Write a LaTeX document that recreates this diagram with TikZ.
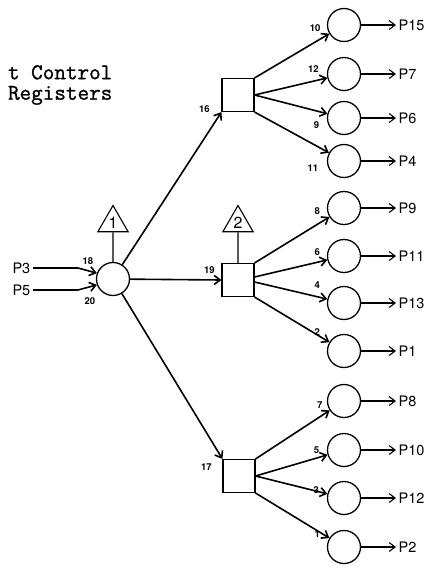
\documentclass[tikz,border=0pt]{standalone}
\usepackage{fontspec}
\setsansfont{TeX Gyre Heros}
\newfontfamily\typefont{Latin Modern Mono}[FakeBold=1.2]
\usetikzlibrary{positioning,arrows.meta,shapes.geometric}
\tikzset{
  gate/.style={circle,draw,line width=1.3pt,minimum size=33pt,inner sep=0pt},
  reg/.style={rectangle,draw,line width=1.1pt,minimum width=32pt,minimum height=33pt,inner sep=0pt},
  flag/.style={regular polygon,regular polygon sides=3,draw,line width=1.1pt,minimum size=35pt,inner sep=0pt,font=\sffamily\fontsize{16}{16}\selectfont},
  port/.style={font=\sffamily\fontsize{14.5}{14.5}\selectfont,inner sep=2.5pt},
  tag/.style 2 args={font=\sffamily\bfseries\fontsize{9.5}{10}\selectfont,inner sep=0pt,pos=1,xshift=#1pt,yshift=#2pt},
  flow/.style={-{Straight Barb[length=6pt,width=9pt]},line width=1.6pt},
  feed/.style={-{Straight Barb[length=6pt,width=9pt]},line width=1.1pt},
}
\begin{document}
\begin{tikzpicture}[x=1pt,y=-1pt]
\useasboundingbox (0,0) rectangle (430,571);
\node[font=\typefont\fontsize{22.5}{20.5}\selectfont,align=right,inner sep=0pt,anchor=north east] (title) at (112.5,65) {t Control\\Registers};
% hub with its flag and the two inputs
\node[gate] (hub) at (113,279) {};
\node[flag] (t1) at (113,223) {1};
\draw[line width=1.1pt] (t1.south) -- (hub);
\node[port,anchor=east] (p3) at (33,268) {P3};
\node[port,anchor=east] (p5) at (33,290) {P5};
\draw[flow] (p3.east) -- ++(45,0) -- (hub.160) node[tag={-9}{12}] {18};
\draw[flow] (p5.east) -- ++(45,0) -- (hub.200) node[tag={-7}{-16}] {20};
% registers
\node[reg] (r16) at (238,95) {};
\node[reg] (r19) at (238,280) {};
\node[reg] (r17) at (239,476) {};
\node[flag] (t2) at (238,223) {2};
\draw[line width=1.1pt] (t2.south) -- (r19);
\draw[flow] (hub) -- (r16.south west) node[tag={-17}{3}] {16};
\draw[flow] (hub) -- (r19.west) node[tag={-12}{10}] {19};
\draw[flow] (hub) -- (r17.north west) node[tag={-16}{-8}] {17};
% outputs
\node[gate] (c10) at (344,25) {};
\node[gate] (c12) at (344,74) {};
\node[gate] (c9) at (344,118) {};
\node[gate] (c11) at (344,161) {};
\node[gate] (c8) at (344,208) {};
\node[gate] (c6) at (344,256) {};
\node[gate] (c4) at (344,303) {};
\node[gate] (c2) at (344,351) {};
\node[gate] (c7) at (344,401) {};
\node[gate] (c5) at (344,450) {};
\node[gate] (c3) at (344,498) {};
\node[gate] (c1) at (344,547) {};
\draw[flow] (r16.north east) -- (c10) node[tag={-14}{6}] {10};
\draw[flow] (r16.east) -- (c12) node[tag={-14}{9}] {12};
\draw[flow] (r16.east) -- (c9) node[tag={-11}{-11}] {9};
\draw[flow] (r16.south east) -- (c11) node[tag={-16}{-15}] {11};
\draw[flow] (r19.north east) -- (c8) node[tag={-12}{6}] {8};
\draw[flow] ([yshift=3pt]r19.east) -- (c6) node[tag={-10}{8}] {6};
\draw[flow] ([yshift=-2pt]r19.east) -- (c4) node[tag={-10}{14}] {4};
\draw[flow] (r19.south east) -- (c2) node[tag={-12}{10}] {2};
\draw[flow] (r17.north east) -- (c7) node[tag={-10}{5}] {7};
\draw[flow] (r17.east) -- (c5) node[tag={-11}{5}] {5};
\draw[flow] (r17.east) -- (c3) node[tag={-11}{4}] {3};
\draw[flow] (r17.south east) -- (c1) node[tag={-12}{4}] {1};
\node[port,anchor=west] (q15) at (396,25) {P15};
\node[port,anchor=west] (q7) at (396,74) {P7};
\node[port,anchor=west] (q6) at (396,118) {P6};
\node[port,anchor=west] (q4) at (396,161) {P4};
\node[port,anchor=west] (q9) at (396,208) {P9};
\node[port,anchor=west] (q11) at (396,256) {P11};
\node[port,anchor=west] (q13) at (396,303) {P13};
\node[port,anchor=west] (q1) at (396,351) {P1};
\node[port,anchor=west] (q8) at (396,401) {P8};
\node[port,anchor=west] (q10) at (396,450) {P10};
\node[port,anchor=west] (q12) at (396,498) {P12};
\node[port,anchor=west] (q2) at (396,547) {P2};
\draw[feed] (c10) -- (q15); \draw[feed] (c12) -- (q7); \draw[feed] (c9) -- (q6); \draw[feed] (c11) -- (q4);
\draw[feed] (c8) -- (q9); \draw[feed] (c6) -- (q11); \draw[feed] (c4) -- (q13); \draw[feed] (c2) -- (q1);
\draw[feed] (c7) -- (q8); \draw[feed] (c5) -- (q10); \draw[feed] (c3) -- (q12); \draw[feed] (c1) -- (q2);
\end{tikzpicture}
\end{document}
